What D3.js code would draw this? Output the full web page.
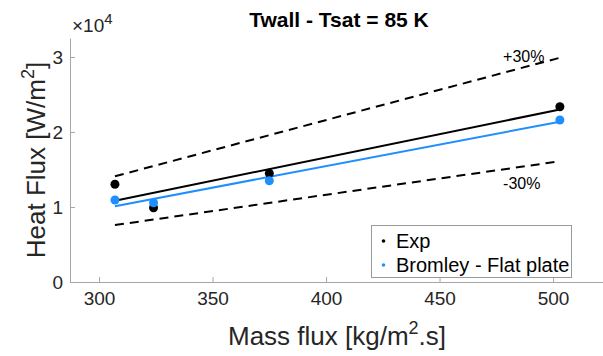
<!DOCTYPE html>
<html>
<head>
<meta charset="utf-8">
<script src="https://cdn.jsdelivr.net/npm/d3@7"></script>
<style>
  html, body { margin: 0; padding: 0; background: #fff; }
  svg { display: block; font-family: "Liberation Sans", Arial, sans-serif; }
</style>
</head>
<body>
<script>
// ---- data ----
const massFlux = [307, 324, 375, 503];
const expFlux = [13030, 9900, 14490, 23370];
const bromleyFlux = [10930, 10570, 13500, 21600];
const fitX = [307, 503];
const expFit = [10840, 23000];
const bromleyFit = [10110, 21370];
const upper30 = [14090, 29900];
const lower30 = [7590, 16100];
const xTicks = [300, 350, 400, 450, 500];
const yTicks = [0, 10000, 20000, 30000];
const yTickLabels = ["0", "1", "2", "3"];
const seriesNames = ["Exp", "Bromley - Flat plate"];
const seriesColors = ["#000000", "#1f8fff"];
const bandLabels = ["+30%", "-30%"];
const bandLabelPos = [[478, 30000], [478, 13070]];

const W = 603, H = 356;
const svg = d3.select("body").append("svg").attr("width", W).attr("height", H);

const x = d3.scaleLinear().domain([287.2, 522]).range([70, 603]);
const y = d3.scaleLinear().domain([0, 32530]).range([282, 38]);

const axisGray = "#a6a6a6";
const textGray = "#262626";

// X axis
const gx = svg.append("g").attr("transform", "translate(0,282)")
  .call(d3.axisBottom(x).tickValues(xTicks).tickSizeInner(-5).tickSizeOuter(0).tickPadding(10));
gx.select(".domain").attr("stroke", axisGray);
gx.selectAll(".tick line").attr("stroke", axisGray);
gx.selectAll(".tick text").attr("fill", textGray).attr("font-size", 19)
  .attr("font-family", "Liberation Sans, Arial, sans-serif");

// Y axis
const gy = svg.append("g").attr("transform", "translate(70,0)")
  .call(d3.axisLeft(y).tickValues(yTicks).tickFormat((d, i) => yTickLabels[i])
    .tickSizeInner(-5).tickSizeOuter(0).tickPadding(7));
gy.select(".domain").attr("stroke", axisGray);
gy.selectAll(".tick line").attr("stroke", axisGray);
gy.selectAll(".tick text").attr("fill", textGray).attr("font-size", 19)
  .attr("font-family", "Liberation Sans, Arial, sans-serif");

// exponent label
const ex = svg.append("text").attr("x", 72).attr("y", 32).attr("fill", textGray).attr("font-size", 19);
ex.append("tspan").text("\u00d710");
ex.append("tspan").attr("dy", -8).attr("font-size", 15).text("4");

// Axis labels
const xl = svg.append("text").attr("x", 337).attr("y", 345).attr("text-anchor", "middle")
  .attr("fill", textGray).attr("font-size", 26);
xl.append("tspan").text("Mass flux [kg/m");
xl.append("tspan").attr("dy", -11).attr("font-size", 18).text("2");
xl.append("tspan").attr("dy", 11).text(".s]");

const yl = svg.append("text").attr("transform", "translate(45,160) rotate(-90)")
  .attr("text-anchor", "middle").attr("fill", textGray).attr("font-size", 26);
yl.append("tspan").text("Heat Flux [W/m");
yl.append("tspan").attr("dy", -11).attr("font-size", 18).text("2");
yl.append("tspan").attr("dy", 11).text("]");

// Title
svg.append("text").attr("x", 339).attr("y", 27).attr("text-anchor", "middle")
  .attr("font-weight", "bold").attr("font-size", 21).attr("fill", "#000")
  .text("Twall - Tsat = 85 K");

const line = d3.line().x(d => x(d[0])).y(d => y(d[1]));

// ±30% dashed lines
[upper30, lower30].forEach(arr => {
  svg.append("path").datum(fitX.map((v, i) => [v, arr[i]]))
    .attr("d", line).attr("fill", "none").attr("stroke", "#000")
    .attr("stroke-width", 2).attr("stroke-dasharray", "9,6");
});

// fit lines
[expFit, bromleyFit].forEach((arr, k) => {
  svg.append("path").datum(fitX.map((v, i) => [v, arr[i]]))
    .attr("d", line).attr("fill", "none").attr("stroke", seriesColors[k])
    .attr("stroke-width", 2);
});

// points
[expFlux, bromleyFlux].forEach((arr, k) => {
  svg.append("g").selectAll("circle").data(massFlux.map((v, i) => [v, arr[i]]))
    .join("circle").attr("cx", d => x(d[0])).attr("cy", d => y(d[1]))
    .attr("r", 4.5).attr("fill", seriesColors[k]);
});

// band labels
bandLabels.forEach((t, i) => {
  svg.append("text").attr("x", x(bandLabelPos[i][0])).attr("y", y(bandLabelPos[i][1]))
    .attr("dominant-baseline", "central").attr("font-size", 16).attr("fill", "#000").text(t);
});

// legend
const lg = svg.append("g");
lg.append("rect").attr("x", 371.5).attr("y", 225.5).attr("width", 200).attr("height", 52)
  .attr("fill", "#fff").attr("stroke", "#9a9a9a").attr("stroke-width", 1);
seriesNames.forEach((n, i) => {
  const cy = 241 + i * 24;
  lg.append("circle").attr("cx", 383.5).attr("cy", cy).attr("r", 1.8).attr("fill", seriesColors[i]);
  lg.append("text").attr("x", 396).attr("y", cy).attr("dominant-baseline", "central")
    .attr("font-size", 20).attr("fill", "#000").text(n);
});
</script>
</body>
</html>
